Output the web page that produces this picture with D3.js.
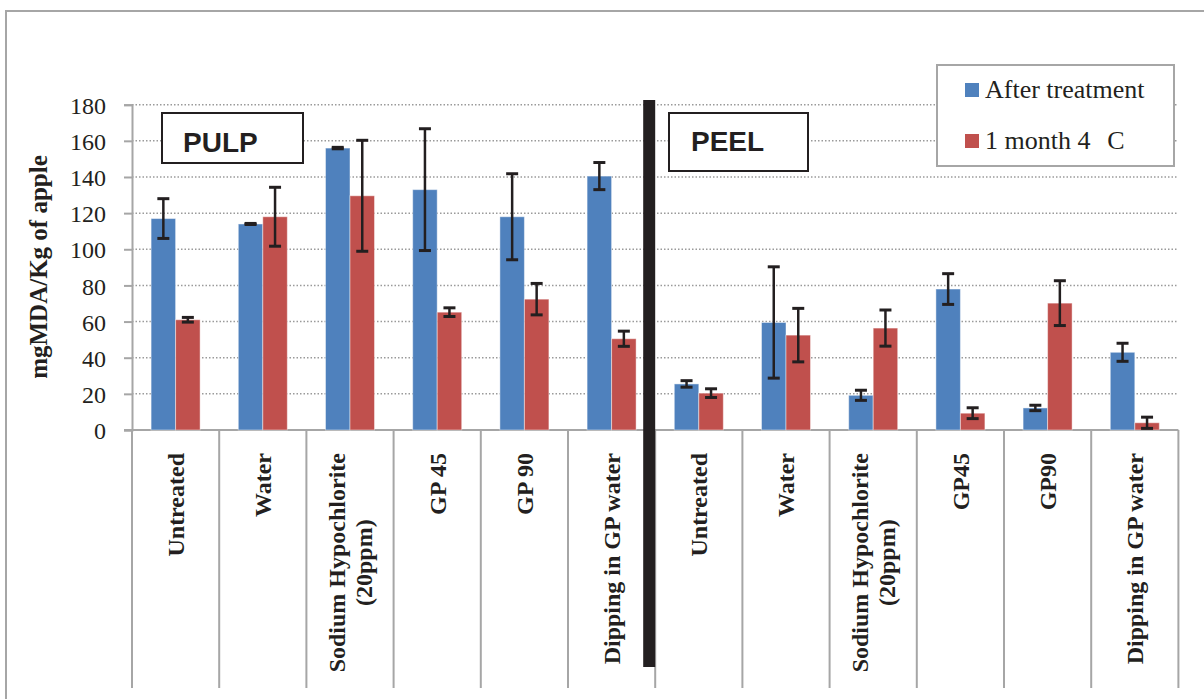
<!DOCTYPE html>
<html>
<head>
<meta charset="utf-8">
<script src="https://cdn.jsdelivr.net/npm/d3@7"></script>
<style>
  html, body { margin: 0; padding: 0; background: #fff; }
  svg { display: block; }
  .serif { font-family: "Liberation Serif", "Times New Roman", serif; }
</style>
</head>
<body>
<svg id="chart" width="1204" height="699"></svg>
<script>
// Categories: six treatments for pulp, then six for peel
const categories = [
  "Untreated", "Water", "Sodium Hypochlorite\n(20ppm)", "GP 45", "GP 90", "Dipping in GP water",
  "Untreated", "Water", "Sodium Hypochlorite\n(20ppm)", "GP45", "GP90", "Dipping in GP water"
];
const seriesNames = ["After treatment", "1 month 4 C"];
// mgMDA/Kg of apple, mean and error (±)
const afterTreatment    = [117, 114, 156, 133, 118, 140.5, 25.5, 59.5, 19.2, 78, 12.2, 43];
const afterTreatmentErr = [11, 0.3, 0.4, 33.7, 23.8, 7.5, 1.8, 30.8, 2.8, 8.5, 1.5, 5];
const oneMonth          = [61, 118, 129.6, 65.2, 72.4, 50.5, 20.4, 52.5, 56.4, 9.3, 70.2, 4];
const oneMonthErr       = [1.3, 16.3, 30.7, 2.4, 8.7, 4.2, 2.4, 14.8, 10, 3, 12.4, 3.1];
const yTicks = [0, 20, 40, 60, 80, 100, 120, 140, 160, 180];
const sectionLabels = ["PULP", "PEEL"];

const colors = ["#4F81BD", "#C0504D"];
const svg = d3.select("#chart");

// outer frame
svg.append("rect").attr("x", 6).attr("y", 11).attr("width", 1210).attr("height", 710)
  .attr("fill", "#fff").attr("stroke", "#a6a6a6").attr("stroke-width", 2);

const plot = { left: 132, right: 1178.4, top: 104.7, bottom: 430, labelBottom: 688 };

const x = d3.scaleBand().domain(d3.range(categories.length))
  .range([plot.left, plot.right]).paddingInner(0).paddingOuter(0);
const sub = d3.scaleBand().domain([0, 1])
  .range([x.bandwidth() * 0.219, x.bandwidth() * 0.781]).padding(0);
const y = d3.scaleLinear().domain([0, 180]).range([plot.bottom, plot.top]);

// dotted horizontal gridlines
svg.append("g").selectAll("line").data(yTicks.filter(d => d > 0)).join("line")
  .attr("x1", plot.left).attr("x2", plot.right)
  .attr("y1", d => y(d)).attr("y2", d => y(d))
  .attr("stroke", "#9a9a9a").attr("stroke-width", 1.5).attr("stroke-dasharray", "1.5,2");

// y axis
const yAxis = svg.append("g").attr("transform", `translate(${plot.left},0)`)
  .call(d3.axisLeft(y).tickValues(yTicks).tickSize(8).tickPadding(18).tickFormat(d3.format("d")));
yAxis.select(".domain").attr("stroke", "#a6a6a6").attr("stroke-width", 2);
yAxis.selectAll(".tick line").attr("stroke", "#a6a6a6").attr("stroke-width", 2);
yAxis.selectAll(".tick text").attr("class", "serif").attr("font-size", 24).attr("fill", "#231f20")
  .attr("dy", "0.36em");

// x axis baseline and category separators
svg.append("line").attr("x1", plot.left - 8).attr("x2", plot.right)
  .attr("y1", plot.bottom).attr("y2", plot.bottom)
  .attr("stroke", "#a6a6a6").attr("stroke-width", 2);
const bounds = d3.range(categories.length + 1).map(i => i < categories.length ? x(i) : plot.right);
svg.append("g").selectAll("line").data(bounds).join("line")
  .attr("x1", d => d).attr("x2", d => d)
  .attr("y1", plot.bottom).attr("y2", plot.labelBottom)
  .attr("stroke", "#a6a6a6").attr("stroke-width", 2);

// bars
const series = [
  { name: seriesNames[0], values: afterTreatment, err: afterTreatmentErr },
  { name: seriesNames[1], values: oneMonth, err: oneMonthErr }
];
series.forEach((s, si) => {
  const g = svg.append("g");
  g.selectAll("rect").data(s.values).join("rect")
    .attr("x", (d, i) => x(i) + sub(si))
    .attr("y", d => y(d))
    .attr("width", sub.bandwidth())
    .attr("height", d => y(0) - y(d))
    .attr("fill", colors[si])
    .attr("stroke", "rgba(255,255,255,0.45)").attr("stroke-width", 1);
});

// error bars
series.forEach((s, si) => {
  const g = svg.append("g").attr("stroke", "#231f20").attr("stroke-width", 2.5);
  const cx = i => x(i) + sub(si) + sub.bandwidth() / 2;
  const cap = 6;
  s.values.forEach((v, i) => {
    const lo = y(Math.max(0, v - s.err[i])), hi = y(v + s.err[i]);
    g.append("line").attr("x1", cx(i)).attr("x2", cx(i)).attr("y1", lo).attr("y2", hi);
    g.append("line").attr("x1", cx(i) - cap).attr("x2", cx(i) + cap).attr("y1", lo).attr("y2", lo).attr("stroke-width", 3);
    g.append("line").attr("x1", cx(i) - cap).attr("x2", cx(i) + cap).attr("y1", hi).attr("y2", hi).attr("stroke-width", 3);
  });
});

// category labels, rotated, reading bottom to top
const labelTop = 453;
categories.forEach((c, i) => {
  const lines = c.split("\n");
  const t = svg.append("text").attr("class", "serif")
    .attr("font-size", 24).attr("font-weight", "bold").attr("fill", "#231f20")
    .attr("text-anchor", "middle");
  const cxp = x(i) + x.bandwidth() / 2;
  const lh = 27;
  lines.forEach((ln, li) => {
    t.append("tspan").text(ln);
  });
  // measure longest line to align the block's top edge
  const widths = [];
  t.selectAll("tspan").each(function() { widths.push(this.getComputedTextLength()); });
  const maxW = d3.max(widths);
  const midY = labelTop + maxW / 2;
  t.selectAll("tspan").each(function(d, li) {
    const off = (li - (lines.length - 1) / 2) * lh;
    d3.select(this).attr("x", -midY).attr("y", cxp + off).attr("dy", "0.35em");
  });
  t.attr("transform", "rotate(-90)");
});

// y axis title
svg.append("text").attr("class", "serif")
  .attr("transform", "translate(38,267) rotate(-90)")
  .attr("text-anchor", "middle").attr("dy", "0.35em")
  .attr("font-size", 25).attr("font-weight", "bold").attr("fill", "#231f20")
  .text("mgMDA/Kg of apple");

// divider between pulp and peel
svg.append("rect").attr("x", x(6) - 12).attr("y", 100).attr("width", 12).attr("height", 567)
  .attr("fill", "#231f20");

// section label boxes
const boxes = [
  { label: sectionLabels[0], x: 162, y: 113, w: 141, h: 50, tx: 183, ty: 152 },
  { label: sectionLabels[1], x: 669, y: 113, w: 139, h: 58, tx: 691, ty: 151 }
];
boxes.forEach(b => {
  svg.append("rect").attr("x", b.x).attr("y", b.y).attr("width", b.w).attr("height", b.h)
    .attr("fill", "#fff").attr("stroke", "#231f20").attr("stroke-width", 2);
  svg.append("text").attr("x", b.tx).attr("y", b.ty)
    .attr("font-family", "'Liberation Sans', Arial, sans-serif")
    .attr("font-size", 28).attr("font-weight", "bold").attr("fill", "#231f20")
    .text(b.label);
});

// legend
const lg = svg.append("g");
lg.append("rect").attr("x", 937).attr("y", 65).attr("width", 237).attr("height", 101)
  .attr("fill", "#fff").attr("stroke", "#a6a6a6").attr("stroke-width", 2);
const rows = [98, 149];
series.forEach((s, si) => {
  lg.append("rect").attr("x", 965).attr("y", rows[si] - 15).attr("width", 14).attr("height", 14)
    .attr("fill", colors[si]);
  const t = lg.append("text").attr("class", "serif").attr("x", 985).attr("y", rows[si])
    .attr("font-size", 26).attr("fill", "#231f20");
  if (si === 0) {
    t.text(s.name);
  } else {
    const parts = s.name.split(" C");
    t.append("tspan").text(parts[0]);
    t.append("tspan").attr("dx", "0.65em").text("C");
  }
});
</script>
</body>
</html>
